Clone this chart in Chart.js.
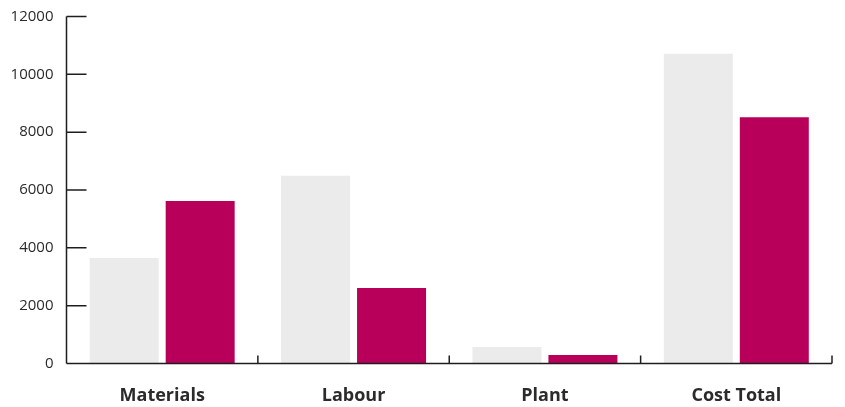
<!DOCTYPE html>
<html>
<head>
<meta charset="utf-8">
<script src="https://cdn.jsdelivr.net/npm/chart.js@4/dist/chart.umd.min.js"></script>
<style>
  html, body { margin: 0; padding: 0; background: #ffffff; }
  #wrap { width: 845px; height: 407px; position: relative; }
</style>
</head>
<body>
<div id="wrap"><canvas id="chart"></canvas></div>
<script>
// Cost breakdown: two series per category
const categories = ["Materials", "Labour", "Plant", "Cost Total"];
const seriesA = [3650, 6490, 570, 10710];
const seriesB = [5620, 2610, 290, 8520];
const yTicks = [0, 2000, 4000, 6000, 8000, 10000, 12000];

const AXIS_COLOR = "#1e1e1e";
const TEXT_COLOR = "#2b2b2b";

// Draws the axis lines with ticks pointing into the plot area
const innerAxes = {
  id: "innerAxes",
  afterDatasetsDraw(chart) {
    const { ctx, chartArea, scales } = chart;
    const x = scales.x, y = scales.y;
    const n = categories.length;
    const step = x.getPixelForValue(1) - x.getPixelForValue(0);
    ctx.save();
    ctx.strokeStyle = AXIS_COLOR;
    ctx.lineWidth = 1.5;
    ctx.beginPath();
    // y axis line
    ctx.moveTo(chartArea.left, chartArea.top);
    ctx.lineTo(chartArea.left, chartArea.bottom);
    // x axis line
    ctx.moveTo(chartArea.left, chartArea.bottom);
    ctx.lineTo(chartArea.right, chartArea.bottom);
    // y ticks, inward
    yTicks.forEach(v => {
      if (v === 0) return;
      const py = y.getPixelForValue(v);
      ctx.moveTo(chartArea.left, py);
      ctx.lineTo(chartArea.left + 20, py);
    });
    // x ticks at category boundaries, upward
    for (let i = 0; i < n; i++) {
      const px = x.getPixelForValue(i) + step / 2;
      ctx.moveTo(px, chartArea.bottom);
      ctx.lineTo(px, chartArea.bottom - 8);
    }
    ctx.stroke();
    ctx.restore();
  }
};

new Chart(document.getElementById("chart"), {
  type: "bar",
  data: {
    labels: categories,
    datasets: [
      { label: "Series A", data: seriesA, backgroundColor: "#ebebeb", categoryPercentage: 0.794, barPercentage: 0.908 },
      { label: "Series B", data: seriesB, backgroundColor: "#b8005a", categoryPercentage: 0.794, barPercentage: 0.908 }
    ]
  },
  options: {
    responsive: true,
    maintainAspectRatio: false,
    animation: false,
    layout: { padding: { top: 16.5, right: 13, left: 0, bottom: 0 } },
    plugins: { legend: { display: false }, tooltip: { enabled: false } },
    scales: {
      x: {
        grid: { display: false, drawTicks: false },
        border: { display: false },
        ticks: {
          color: TEXT_COLOR,
          padding: 22,
          font: { family: "'Open Sans', sans-serif", size: 18, weight: "700" }
        },
        afterFit(scale) {
          scale.height = 43.5;
          scale.paddingLeft = 0;
          scale.paddingRight = 0;
        }
      },
      y: {
        min: 0,
        max: 12000,
        grid: { display: false, drawTicks: false },
        border: { display: false },
        afterBuildTicks(scale) { scale.ticks = yTicks.map(v => ({ value: v })); },
        ticks: {
          color: TEXT_COLOR,
          padding: 13,
          font: { family: "'Open Sans', sans-serif", size: 15 },
          callback: (v) => String(v)
        },
        afterFit(scale) {
          scale.width = 66.5;
          scale.paddingTop = 0;
          scale.paddingBottom = 0;
        }
      }
    }
  },
  plugins: [innerAxes]
});
</script>
</body>
</html>
